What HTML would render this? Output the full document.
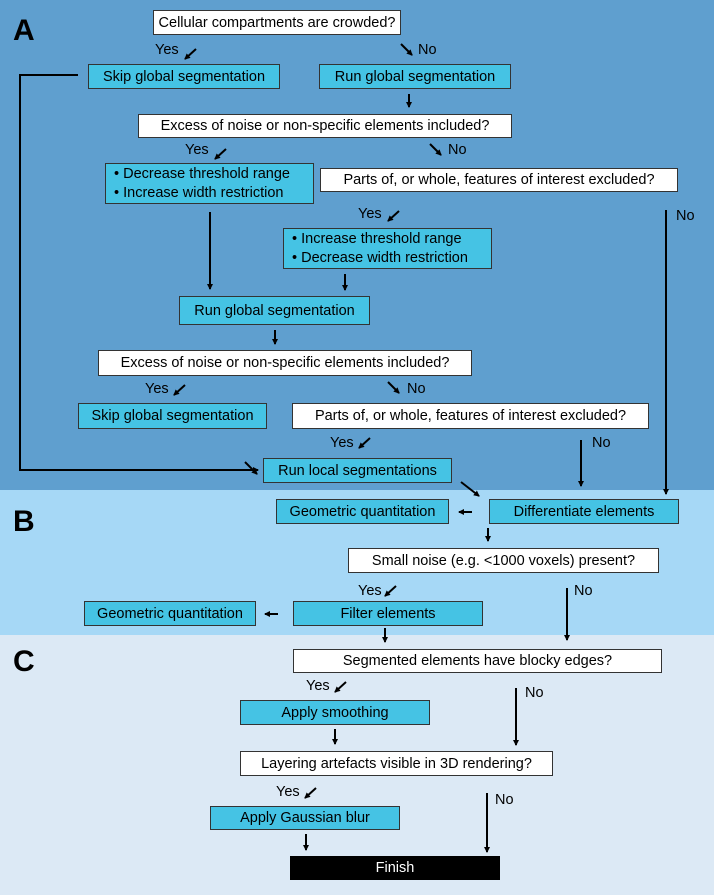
<!DOCTYPE html>
<html><head><style>
body{margin:0;width:714px;height:895px;position:relative;font-family:"Liberation Sans",Arial,sans-serif;overflow:hidden}
.band{position:absolute;left:0;width:714px}
.b{position:absolute;box-sizing:border-box;border:1.5px solid #333;font-size:14.5px;color:#000;display:flex;align-items:center;justify-content:center;white-space:nowrap}
.w{background:#fff}.c{background:#45c3e4}
.l{position:absolute;font-size:14.5px;white-space:nowrap}
.L{position:absolute;font-weight:bold;font-size:30px}
svg{position:absolute;left:0;top:0}
</style></head><body>
<div class="band" style="top:0;height:490px;background:#5f9fcf"></div>
<div class="band" style="top:490px;height:145px;background:#a6d8f6"></div>
<div class="band" style="top:635px;height:260px;background:#dce9f5"></div>
<div class="L" style="left:13px;top:14px">A</div>
<div class="L" style="left:13px;top:505px">B</div>
<div class="L" style="left:13px;top:645px">C</div>

<div class="b w" style="left:153px;top:10px;width:248px;height:25px">Cellular compartments are crowded?</div>
<div class="b c" style="left:88px;top:64px;width:192px;height:25px">Skip global segmentation</div>
<div class="b c" style="left:319px;top:64px;width:192px;height:25px">Run global segmentation</div>
<div class="b w" style="left:138px;top:114px;width:374px;height:24px">Excess of noise or non-specific elements included?</div>
<div class="b c" style="left:105px;top:163px;width:209px;height:41px;justify-content:flex-start;padding-left:8px;line-height:19px">• Decrease threshold range<br>• Increase width restriction</div>
<div class="b w" style="left:320px;top:168px;width:358px;height:24px">Parts of, or whole, features of interest excluded?</div>
<div class="b c" style="left:283px;top:228px;width:209px;height:41px;justify-content:flex-start;padding-left:8px;line-height:19px">• Increase threshold range<br>• Decrease width restriction</div>
<div class="b c" style="left:179px;top:296px;width:191px;height:29px">Run global segmentation</div>
<div class="b w" style="left:98px;top:350px;width:374px;height:26px">Excess of noise or non-specific elements included?</div>
<div class="b c" style="left:78px;top:403px;width:189px;height:26px">Skip global segmentation</div>
<div class="b w" style="left:292px;top:403px;width:357px;height:26px">Parts of, or whole, features of interest excluded?</div>
<div class="b c" style="left:263px;top:458px;width:189px;height:25px">Run local segmentations</div>
<div class="b c" style="left:276px;top:499px;width:173px;height:25px">Geometric quantitation</div>
<div class="b c" style="left:489px;top:499px;width:190px;height:25px">Differentiate elements</div>
<div class="b w" style="left:348px;top:548px;width:311px;height:25px">Small noise (e.g. &lt;1000 voxels) present?</div>
<div class="b c" style="left:84px;top:601px;width:172px;height:25px">Geometric quantitation</div>
<div class="b c" style="left:293px;top:601px;width:190px;height:25px">Filter elements</div>
<div class="b w" style="left:293px;top:649px;width:369px;height:24px">Segmented elements have blocky edges?</div>
<div class="b c" style="left:240px;top:700px;width:190px;height:25px">Apply smoothing</div>
<div class="b w" style="left:240px;top:751px;width:313px;height:25px">Layering artefacts visible in 3D rendering?</div>
<div class="b c" style="left:210px;top:806px;width:190px;height:24px">Apply Gaussian blur</div>
<div class="b" style="left:290px;top:856px;width:210px;height:24px;background:#000;color:#fff;border-color:#000">Finish</div>

<div class="l" style="left:155px;top:42px">Yes</div>
<div class="l" style="left:418px;top:42px">No</div>
<div class="l" style="left:185px;top:142px">Yes</div>
<div class="l" style="left:448px;top:142px">No</div>
<div class="l" style="left:358px;top:206px">Yes</div>
<div class="l" style="left:676px;top:208px">No</div>
<div class="l" style="left:145px;top:381px">Yes</div>
<div class="l" style="left:407px;top:381px">No</div>
<div class="l" style="left:330px;top:435px">Yes</div>
<div class="l" style="left:592px;top:435px">No</div>
<div class="l" style="left:358px;top:583px">Yes</div>
<div class="l" style="left:574px;top:583px">No</div>
<div class="l" style="left:306px;top:678px">Yes</div>
<div class="l" style="left:525px;top:685px">No</div>
<div class="l" style="left:276px;top:784px">Yes</div>
<div class="l" style="left:495px;top:792px">No</div>

<svg width="714" height="895">
<defs><marker id="a" markerWidth="6" markerHeight="6" refX="5" refY="3" orient="auto" markerUnits="userSpaceOnUse"><path d="M0,0L6,3L0,6z" fill="#000"/></marker></defs>
<g stroke="#000" stroke-width="2" fill="none" marker-end="url(#a)">
<path d="M196,49L185,59"/><path d="M401,44L412,55"/>
<path d="M226,149L215,159"/><path d="M430,144L441,155"/>
<path d="M399,211L388,221"/>
<path d="M185,385L174,395"/><path d="M388,382L399,393"/>
<path d="M370,438L359,448"/><path d="M245,462L257,474"/>
<path d="M461,482L479,496"/>
<path d="M396,586L385,596"/>
<path d="M346,682L335,692"/>
<path d="M316,788L305,798"/>
<path d="M409,94V107"/><path d="M345,274V290"/><path d="M275,330V344"/>
<path d="M385,628V642"/><path d="M335,729V744"/><path d="M306,834V850"/>
<path d="M488,528V541"/>
<path d="M472,512H459"/><path d="M278,614H265"/>
<path d="M210,212V289"/><path d="M666,210V494"/><path d="M581,440V486"/>
<path d="M567,588V640"/><path d="M516,688V745"/><path d="M487,793V852"/>
<path d="M78,75H20V470H258"/>
</g>
</svg>
</body></html>
